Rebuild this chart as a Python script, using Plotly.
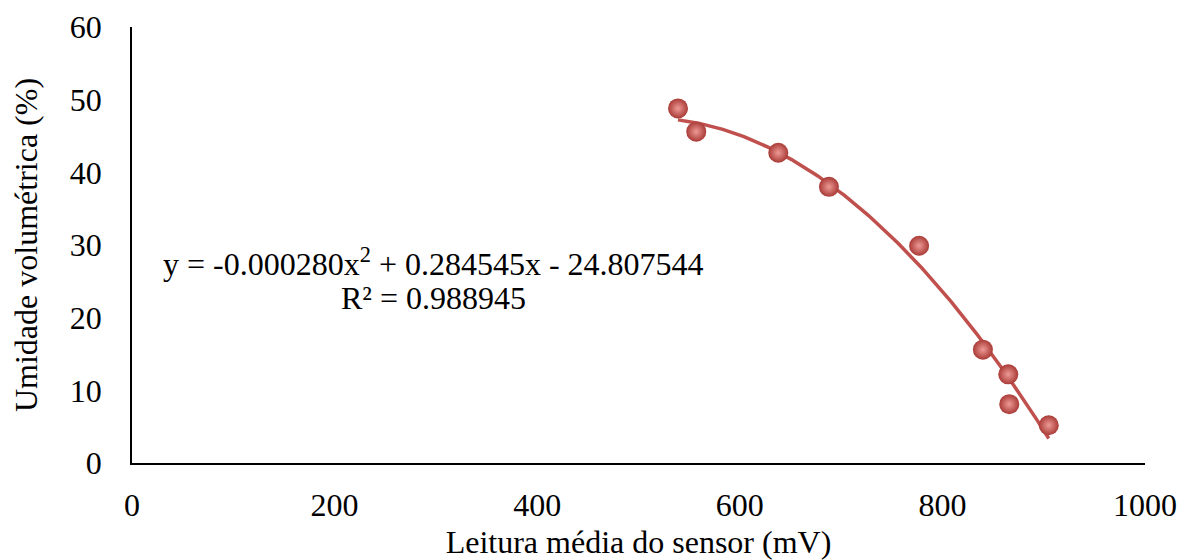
import numpy as np
import plotly.graph_objects as go

# Data
sensor_mv = [539, 557, 638, 688, 777, 840, 865, 866, 905]
umidade = [48.8, 45.6, 42.7, 38.0, 29.9, 15.6, 12.2, 8.1, 5.2]

# Polynomial trendline coefficients (as printed on chart): a*x^2 + b*x + c
coef = [-0.000280, 0.284545, -24.807544]
r2 = 0.988945

x_ticks = [0, 200, 400, 600, 800, 1000]
y_ticks = [0, 10, 20, 30, 40, 50, 60]

xf = np.linspace(min(sensor_mv), max(sensor_mv), 200)
yf = np.polyval(coef, xf)

font = "Liberation Serif, Times New Roman, serif"
fs = 32

fig = go.Figure()
fig.add_trace(go.Scatter(
    x=xf, y=yf, mode="lines",
    line=dict(color="#C0504D", width=3.5),
    showlegend=False, hoverinfo="skip"))
fig.add_trace(go.Scatter(
    x=sensor_mv, y=umidade, mode="markers",
    marker=dict(size=20, color="#A93A36",
                gradient=dict(type="radial", color="#EE9A96"),
                line=dict(width=0)),
    showlegend=False))

eq_text = "y = -0.000280x<sup>2</sup> + 0.284545x - 24.807544"
r2_text = "R² = 0.988945"
fig.add_annotation(
    x=298, y=27.6, xref="x", yref="y", text=eq_text, showarrow=False,
    font=dict(family=font, size=fs, color="black"))
fig.add_annotation(
    x=298, y=22.7, xref="x", yref="y", text=r2_text, showarrow=False,
    font=dict(family=font, size=fs, color="black"))

fig.update_layout(
    width=1178, height=552,
    margin=dict(l=124, r=41, t=19, b=97),
    plot_bgcolor="white", paper_bgcolor="white",
    font=dict(family=font, size=fs, color="black"),
)
fig.update_xaxes(
    range=[0, 1000], tickvals=x_ticks, showgrid=False, zeroline=False,
    showline=True, linecolor="black", linewidth=1.5, ticks="",
    automargin=False,
    ticklabelstandoff=13, tickfont=dict(family=font, size=fs),
    title=dict(text="Leitura média do sensor (mV)", standoff=12,
               font=dict(family=font, size=fs)))
fig.update_yaxes(
    range=[0, 60], tickvals=y_ticks, showgrid=False, zeroline=False,
    showline=True, linecolor="black", linewidth=1.5, ticks="",
    automargin=False,
    ticklabelstandoff=22, tickfont=dict(family=font, size=fs),
    title=dict(text="Umidade volumétrica (%)", standoff=34,
               font=dict(family=font, size=fs)))

fig.write_html("out.html")
